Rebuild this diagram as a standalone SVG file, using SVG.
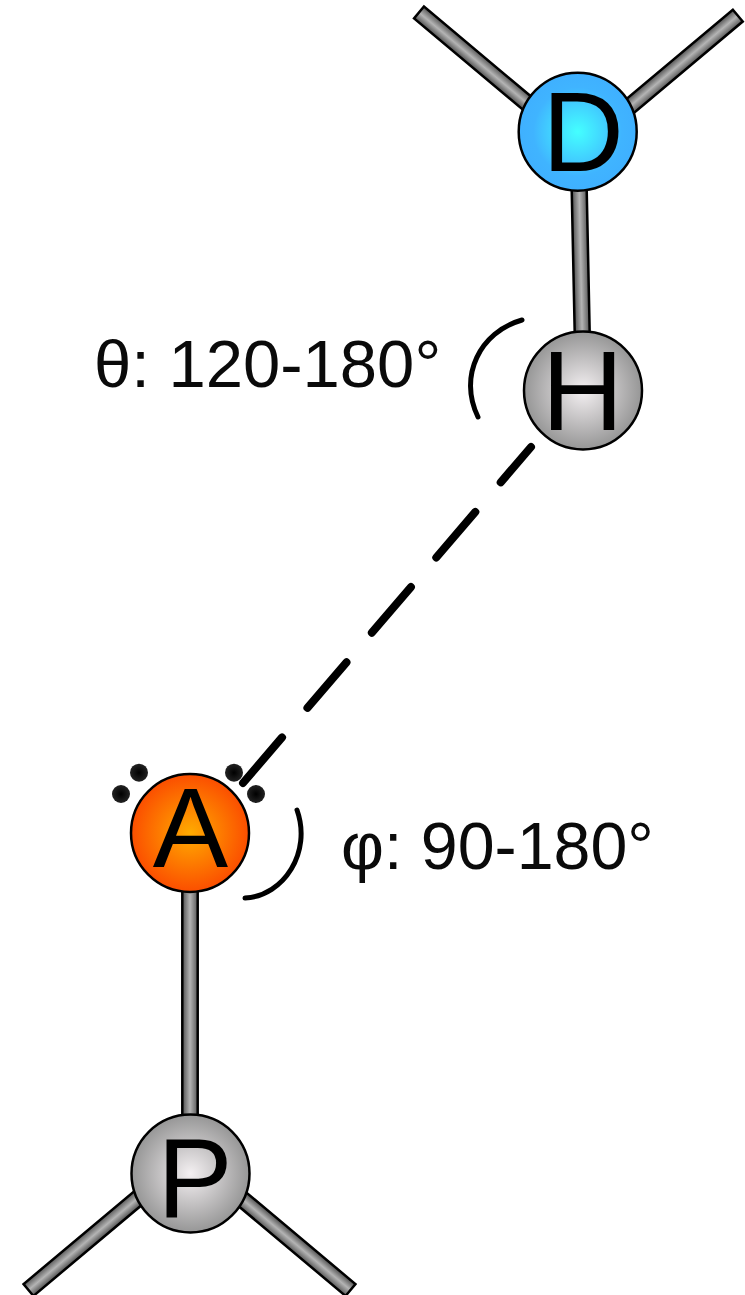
<svg xmlns="http://www.w3.org/2000/svg" width="745" height="1295" viewBox="0 0 745 1295">
<style>
.bond{fill:url(#bondGrad);stroke:#000;stroke-width:2.5}
.atom{stroke:#000;stroke-width:2.5}
.sym{font-family:"Liberation Sans",Arial,sans-serif;font-size:113px;fill:#000;text-anchor:middle}
.lab{font-family:"Liberation Sans",Arial,sans-serif;fill:#0a0a0a}
.arc{fill:none;stroke:#000;stroke-width:5;stroke-linecap:round}
.dot{fill:url(#dotGrad)}
</style>
<defs>
<linearGradient id="bondGrad" x1="0" y1="0" x2="1" y2="0"><stop offset="0" stop-color="#505050"/><stop offset="0.5" stop-color="#b4b4b4"/><stop offset="1" stop-color="#585858"/></linearGradient>
<radialGradient id="gD"><stop offset="0" stop-color="#4ff"/><stop offset="0.75" stop-color="#40b4ff"/><stop offset="1" stop-color="#3fb0ff"/></radialGradient>
<radialGradient id="gA"><stop offset="0" stop-color="#ffab00"/><stop offset="1" stop-color="#fb4e00"/></radialGradient>
<radialGradient id="gH"><stop offset="0" stop-color="#f4f0f2"/><stop offset="1" stop-color="#969696"/></radialGradient>
<radialGradient id="dotGrad"><stop offset="0" stop-color="#000"/><stop offset="1" stop-color="#222"/></radialGradient>
</defs>
<g id="bonds">
<rect class="bond" x="-7.7" y="0" width="15.4" height="150" transform="translate(419 12.5) rotate(-50)"/>
<rect class="bond" x="-7.7" y="0" width="15.4" height="150" transform="translate(737.8 15.6) rotate(50)"/>
<rect class="bond" x="-7.5" y="0" width="15" height="160" transform="translate(579 180) rotate(-1.2)"/>
<rect class="bond" x="-7.7" y="0" width="15.4" height="240" transform="translate(190 885)"/>
<rect class="bond" x="-7.7" y="0" width="15.4" height="150" transform="translate(28.5 1290) rotate(-130)"/>
<rect class="bond" x="-7.7" y="0" width="15.4" height="150" transform="translate(350.5 1290) rotate(130)"/>
</g>
<g id="connectors">
<path class="arc" stroke-dasharray="60 39" style="stroke-width:8" d="M243 783L531 447"/>
<path class="arc" d="M522 320C480 332 458 376 478 417"/>
<path class="arc" d="M297 810C312 852 284 896 245 898"/>
</g>
<g id="lone-pairs">
<circle class="dot" cx="139" cy="772.7" r="9"/>
<circle class="dot" cx="121" cy="794" r="9"/>
<circle class="dot" cx="234" cy="772.7" r="9"/>
<circle class="dot" cx="256" cy="794" r="9"/>
</g>
<g id="node-D"><circle class="atom" cx="577.7" cy="131.7" r="59" fill="url(#gD)"/><text class="sym" x="583" y="171">D</text></g>
<g id="node-H"><circle class="atom" cx="583" cy="390.5" r="59" fill="url(#gH)"/><text class="sym" x="582.5" y="430">H</text></g>
<g id="node-A"><circle class="atom" cx="190" cy="833" r="59" fill="url(#gA)"/><text class="sym" x="190.5" y="867">A</text></g>
<g id="node-P"><circle class="atom" cx="190.5" cy="1173.5" r="59" fill="url(#gH)"/><text class="sym" x="195" y="1216.5">P</text></g>
<text class="lab" x="94" y="387" font-size="67">θ: 120-180°</text>
<text class="lab" x="341" y="869" font-size="66.3">φ: 90-180°</text>
</svg>
